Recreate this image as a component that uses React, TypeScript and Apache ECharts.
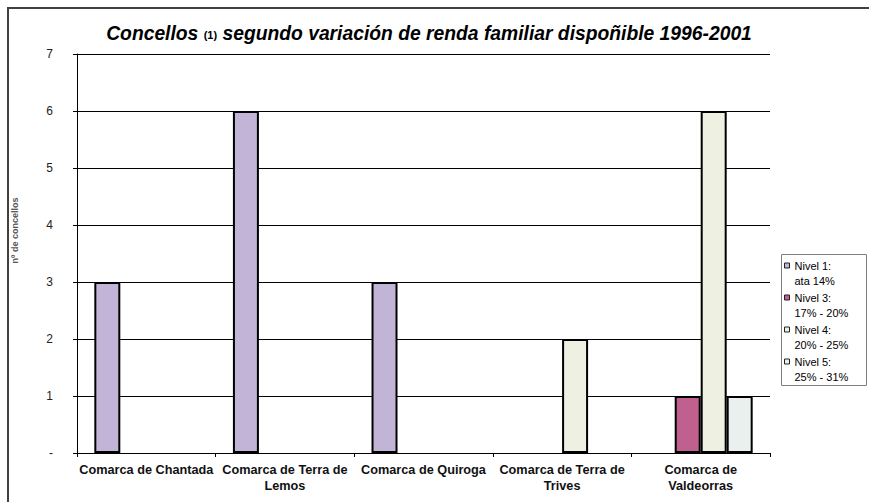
import React, { useEffect, useRef } from "react";
import * as echarts from "echarts";

const categories = [
  "Comarca de Chantada",
  "Comarca de Terra de\nLemos",
  "Comarca de Quiroga",
  "Comarca de Terra de\nTrives",
  "Comarca de\nValdeorras",
];
const seriesNames = ["Nivel 1:\nata 14%", "Nivel 3:\n17% - 20%", "Nivel 4:\n20% - 25%", "Nivel 5:\n25% - 31%"];
const nivel1 = [3, 6, 3, null, null];
const nivel3 = [null, null, null, null, 1];
const nivel4 = [null, null, null, 2, 6];
const nivel5 = [null, null, null, null, 1];
const yTicks = ["-", "1", "2", "3", "4", "5", "6", "7"];
const colors = ["#C1B4D6", "#C0608F", "#EEF0E1", "#EAF0EE"];

export default function App() {
  const ref = useRef<HTMLDivElement>(null);
  useEffect(() => {
    document.body.style.margin = "0";
    const chart = echarts.init(ref.current!, null, { renderer: "svg" });
    const data = [nivel1, nivel3, nivel4, nivel5];
    chart.setOption({
      animation: false,
      backgroundColor: "#fff",
      title: {
        text: "{a|Concellos }{b|(1)}{a| segundo variación de renda familiar dispoñible 1996-2001}",
        left: 424,
        textAlign: "center",
        top: 19,
        textStyle: {
          rich: {
            a: { fontFamily: "Liberation Sans", fontSize: 19.3, fontWeight: "bold", fontStyle: "italic", color: "#000" },
            b: { fontFamily: "Liberation Sans", fontSize: 11, fontWeight: "bold", color: "#000", padding: [3, 0, 0, 0] },
          },
        },
      },
      graphic: [
        {
          type: "polyline",
          z: -10,
          shape: { points: [[8, 700], [8, 8], [1000, 8]] },
          style: { fill: "none", stroke: "#404040", lineWidth: 2 },
        },
        {
          type: "rect",
          z: -5,
          shape: { x: 781.5, y: 254.5, width: 85, height: 131 },
          style: { fill: "#fff", stroke: "#808080", lineWidth: 1 },
        },
      ],
      legend: {
        orient: "vertical",
        left: 784,
        top: 243,
        padding: 0,
        itemGap: -13,
        itemWidth: 5,
        itemHeight: 5,
        icon: "rect",
        itemStyle: { borderColor: "#222", borderWidth: 1 },
        formatter: (name: string) => "\n" + name,
        textStyle: {
          fontFamily: "Liberation Sans",
          fontSize: 11,
          color: "#000",
          lineHeight: 15,
        },
        data: seriesNames,
      },
      grid: { left: 77, right: 99, top: 54, bottom: 49 },
      xAxis: {
        type: "category",
        data: categories,
        axisLine: { lineStyle: { color: "#000", width: 1 } },
        axisTick: { show: true, length: 4, lineStyle: { color: "#000" } },
        axisLabel: {
          fontFamily: "Liberation Sans",
          fontWeight: "bold",
          fontSize: 12.7,
          color: "#111",
          margin: 9,
          lineHeight: 16,
          interval: 0,
        },
      },
      yAxis: {
        type: "value",
        min: 0,
        max: 7,
        interval: 1,
        name: "nº de concellos",
        nameLocation: "middle",
        nameGap: 58,
        nameTextStyle: {
          fontFamily: "Liberation Sans",
          fontSize: 9,
          fontWeight: "bold",
          color: "#555",
          padding: [0, 0, 0, 46],
        },
        axisLine: { show: true, lineStyle: { color: "#000", width: 1 } },
        axisTick: { show: true, length: 4, lineStyle: { color: "#000" } },
        splitLine: { lineStyle: { color: "#000", width: 1 } },
        axisLabel: {
          fontFamily: "Liberation Sans",
          fontSize: 12,
          color: "#222",
          margin: 24,
          formatter: (v: number) => yTicks[v] ?? String(v),
        },
      },
      series: data.map((d, i) => ({
        type: "bar",
        name: seriesNames[i],
        data: d,
        barGap: "0%",
        barCategoryGap: "25%",
        itemStyle: { color: colors[i], borderColor: "#000", borderWidth: 2 },
      })),
    });
    return () => chart.dispose();
  }, []);
  return <div ref={ref} style={{ width: 869, height: 502 }} />;
}
